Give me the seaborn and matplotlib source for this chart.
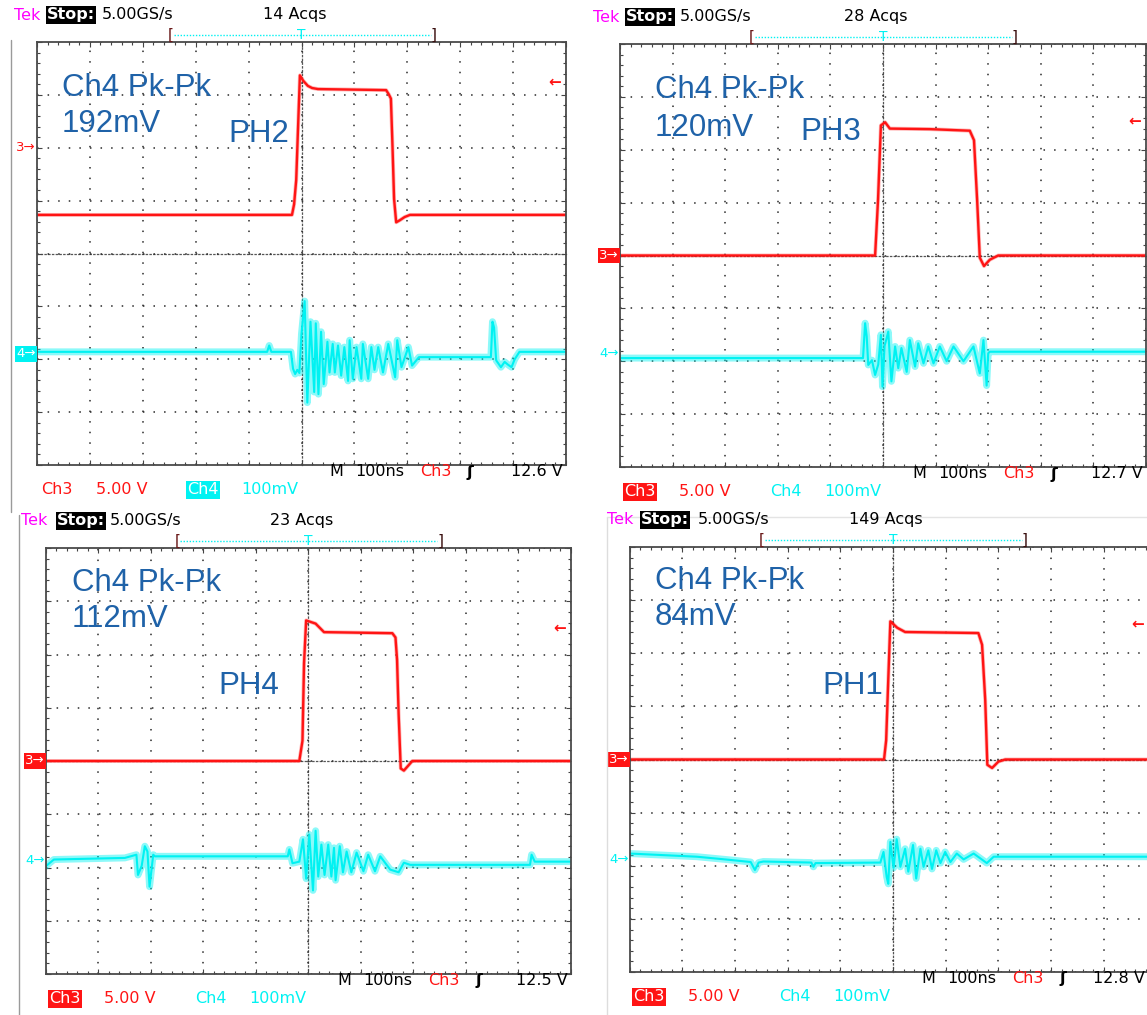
import numpy as np
import pandas as pd
import matplotlib
matplotlib.use("Agg")
import matplotlib.pyplot as plt
from matplotlib.lines import Line2D
from matplotlib.ticker import MultipleLocator
from matplotlib.transforms import Affine2D, blended_transform_factory
import seaborn as sns

# ---------------------------------------------------------------------------
# Captured switch-node (Ch3, 5 V/div) and output ripple (Ch4, 100 mV/div)
# waveforms for each phase, time base 100 ns/div, trigger at t = 0.
# ---------------------------------------------------------------------------
PHASES = ["PH2", "PH3", "PH4", "PH1"]
PK_PK = ["192mV", "120mV", "112mV", "84mV"]
ACQS = ["14 Acqs", "28 Acqs", "23 Acqs", "149 Acqs"]
TRIG_TEXT = ["12.6 V", "12.7 V", "12.5 V", "12.8 V"]
TRIG_V = [12.6, 12.7, 12.5, 12.8]

# vertical position (divisions) of each channel's reference level
CH3_ZERO = [0.73, 0.0, 0.0, 0.0]
CH3_MARK = [2.0, 0.0, 0.0, 0.0]
CH4_ZERO = [-1.90, -1.86, -1.87, -1.89]

# Ch3: switch node, volts
PH2_CH3_T = [-500, -18, -14, -10, -6, -3, 3, 12, 20, 31, 160, 165, 169, 172, 175, 179, 186, 195, 205, 500]
PH2_CH3_V = [0, 0, 1.0, 3.3, 9.0, 13.2, 12.7, 12.2, 12.0, 11.9, 11.8, 11.4, 11.0, 6.5, 1.5, -0.7, -0.5, -0.2, 0, 0]

PH3_CH3_T = [-500, -15, -9.5, -4, 4, 13, 89, 165, 173, 179, 184, 192, 203, 219, 500]
PH3_CH3_V = [0, 0, 5.2, 12.3, 12.6, 12.0, 11.95, 11.8, 10.9, 5.2, -0.2, -1.0, -0.4, 0, 0]

PH4_CH3_T = [-500, -17, -11, -8, -4, 14, 30, 160, 166, 169, 172, 176, 182, 198, 500]
PH4_CH3_V = [0, 0, 1.9, 9.2, 13.2, 12.9, 12.1, 12.0, 11.6, 9.5, 4.4, -0.7, -0.9, 0, 0]

PH1_CH3_T = [-500, -17, -13, -9, -5, 8, 23, 162, 169, 175, 179, 188, 200, 213, 500]
PH1_CH3_V = [0, 0, 1.8, 7.5, 13.0, 12.4, 12.0, 11.9, 10.8, 5.6, -0.5, -0.8, -0.2, 0, 0]

# Ch4: output ripple, millivolts
PH2_CH4_T = [-500, -65, -61, -57, -20, -16, -12, -8, -4, 0, 6, 11, 17, 24, 27, 32, 37, 42, 49, 53,
             59, 63, 69, 75, 81, 88, 91, 97, 104, 113, 116, 126, 132, 138, 145, 154, 164, 177, 181, 189,
             202, 209, 222, 358, 361, 364, 368, 377, 384, 390, 397, 403, 412, 500]
PH2_CH4_MV = [4, 4, 16, 4, 4, -28, -38, -30, -36, 38, 100, -92, 61, -72, 58, -76, 42, -57, 23, -35,
              19, -35, 16, -41, 13, -51, 26, -47, 13, -47, 19, -47, 13, -30, 13, -35, 19, -44, 26, -25,
              13, -22, -6, -6, 61, 50, -12, -25, -15, -20, -25, -10, 4, 4]

PH3_CH4_T = [-500, -38, -34, -31, -28, -21, -15, -9, -4, -1, 3, 6, 10, 16, 23, 29, 35, 45, 51, 61,
             67, 77, 86, 96, 108, 121, 134, 153, 172, 184, 191, 197, 200, 203, 500]
PH3_CH4_MV = [-8, -8, 58, 33, -21, -12, -40, -20, 36, -62, 15, 26, 42, -52, 14, -27, 11, -34, 26, -24,
              20, -18, 14, -18, 14, -14, 14, -14, 14, -37, 26, -60, 1, 4, 4]

PH4_CH4_T = [-500, -484, -349, -327, -324, -317, -311, -306, -302, -295, -292, -39, -36, -30, -17,
             -10, -4, 2, 9, 14, 19, 25, 31, 38, 44, 49, 52, 60, 66, 73, 82, 92, 105, 114, 127, 137,
             156, 172, 182, 194, 422, 425, 431, 500]
PH4_CH4_MV = [-11, 2, 5, 11, -27, -10, 27, 17, -49, 11, 8, 8, 21, -5, -2,
              40, -34, 49, -56, 56, -30, 30, -27, 30, -30, 24, -37, 27, -22, 17, -22, 15, -20, 11, -20, 8,
              -17, -22, -4, -8, -8, 11, -2, -2]

PH1_CH4_T = [-500, -372, -309, -270, -262, -255, -246, -155, -151, -147, -24, -18, -12, -9, -5, 1, 7,
             14, 23, 29, 38, 44, 52, 58, 67, 74, 82, 90, 99, 109, 121, 134, 153, 178, 191, 500]
PH1_CH4_MV = [12, 6, 0, -4, -19, -5, -3, -5, -13, -6, -5, 15, -32, -45, 34, -15, 39,
              -13, 21, -22, 28, -35, 21, -13, 18, -17, 18, -6, 15, -4, 12, 1, 12, -6, 6, 6]

CH3_T = [PH2_CH3_T, PH3_CH3_T, PH4_CH3_T, PH1_CH3_T]
CH3_V = [PH2_CH3_V, PH3_CH3_V, PH4_CH3_V, PH1_CH3_V]
CH4_T = [PH2_CH4_T, PH3_CH4_T, PH4_CH4_T, PH1_CH4_T]
CH4_MV = [PH2_CH4_MV, PH3_CH4_MV, PH4_CH4_MV, PH1_CH4_MV]

CH3_SCALE = 5.0     # V/div
CH4_SCALE = 100.0   # mV/div

# ---------------------------------------------------------------------------
# Layout (pixel coordinates on the 1147 x 1015 canvas)
# ---------------------------------------------------------------------------
W, H = 1147, 1015
PANEL_BOX = [(37, 42, 566, 465), (620, 44, 1146, 467),
             (45.5, 548, 571, 974), (629.5, 547, 1156.5, 972)]
HEADER_X = [(14, 47, 102), (593, 626, 680), (21, 57, 110), (607, 641, 698)]
LABEL_POS = [((62, 96), (62, 132), (228, 142)),
             ((655, 98), (655, 136), (800, 140)),
             ((72, 591), (72, 627), (218, 694)),
             ((655, 589), (655, 625), (822, 694))]
CH3_ACTIVE = [False, True, True, True]

RED = "#FF1414"
CYAN = "#00F2F2"
MAGENTA = "#FF00FF"
BLUE = "#1F62A8"
GRID = "#2A2A2A"

sns.set_theme(style="white")
plt.rcParams["font.family"] = ["DejaVu Sans"]
plt.rcParams["axes.facecolor"] = "none"

fig = plt.figure(figsize=(W / 100, H / 100), dpi=100)
fig.patch.set_facecolor("white")
pix = Affine2D().scale(1.0 / W, -1.0 / H).translate(0, 1) + fig.transFigure

SCOPE_FONT = dict(family=["DejaVu Sans"], fontsize=11.5)


def ptext(x, y, s, color="black", ha="left", va="center", **kw):
    opts = dict(SCOPE_FONT)
    opts.update(kw)
    return fig.text(x, y, s, transform=pix, color=color, ha=ha, va=va, **opts)


def pline(xs, ys, **kw):
    fig.add_artist(Line2D(xs, ys, transform=pix, **kw))


# screenshot borders
pline([11, 11], [40, 512], color="#9a9a9a", lw=1.0)
pline([19, 19], [515, 1015], color="#9a9a9a", lw=1.0)
pline([607, 607], [517, 1015], color="#dddddd", lw=1.0)
pline([607, 1147], [517, 517], color="#e4e4e4", lw=1.0)

for i in range(4):
    L, T, R, B = PANEL_BOX[i]
    rect = [L / W, 1 - B / H, (R - L) / W, (B - T) / H]
    cx_pix = (L + R) / 2

    # centre crosshair with fine division marks
    cross = fig.add_axes(rect)
    cross.set_xlim(-500, 500)
    cross.set_ylim(-4, 4)
    cross.patch.set_visible(False)
    cross.spines["left"].set_position(("data", 0))
    cross.spines["bottom"].set_position(("data", 0))
    cross.spines["top"].set_visible(False)
    cross.spines["right"].set_visible(False)
    for side in ("left", "bottom"):
        cross.spines[side].set_linestyle((0, (1, 2)))
        cross.spines[side].set_color("#555555")
        cross.spines[side].set_linewidth(0.9)
    cross.xaxis.set_major_locator(MultipleLocator(100))
    cross.xaxis.set_minor_locator(MultipleLocator(20))
    cross.yaxis.set_major_locator(MultipleLocator(1))
    cross.yaxis.set_minor_locator(MultipleLocator(0.2))
    cross.tick_params(which="both", direction="inout", length=4.5, width=0.8, color="#444444",
                      labelbottom=False, labelleft=False)

    # graticule frame, dotted divisions and traces
    ax = fig.add_axes(rect)
    ax.set_xlim(-500, 500)
    ax.set_ylim(-4, 4)
    ax.patch.set_visible(False)
    ax.xaxis.set_major_locator(MultipleLocator(100))
    ax.xaxis.set_minor_locator(MultipleLocator(20))
    ax.yaxis.set_major_locator(MultipleLocator(1))
    ax.yaxis.set_minor_locator(MultipleLocator(0.2))
    ax.grid(which="major", color=GRID, lw=1.1, ls=(0, (1, 5.93)))
    ax.tick_params(which="both", direction="in", top=True, right=True, bottom=True, left=True,
                   labelbottom=False, labelleft=False, color="#444444", width=0.8)
    ax.tick_params(which="major", length=3.5)
    ax.tick_params(which="minor", length=2.4)
    for sp in ax.spines.values():
        sp.set_color("#4a4a4a")
        sp.set_linewidth(1.3)

    d3 = pd.DataFrame({"t": CH3_T[i], "div": CH3_ZERO[i] + np.asarray(CH3_V[i]) / CH3_SCALE})
    d4 = pd.DataFrame({"t": CH4_T[i], "div": CH4_ZERO[i] + np.asarray(CH4_MV[i]) / CH4_SCALE})

    sns.lineplot(data=d4, x="t", y="div", ax=ax, color=CYAN, lw=5.0, alpha=0.45,
                 estimator=None, sort=False, legend=False)
    sns.lineplot(data=d4, x="t", y="div", ax=ax, color=CYAN, lw=1.5,
                 estimator=None, sort=False, legend=False)
    sns.lineplot(data=d3, x="t", y="div", ax=ax, color=RED, lw=2.8, alpha=0.3,
                 estimator=None, sort=False, legend=False)
    sns.lineplot(data=d3, x="t", y="div", ax=ax, color=RED, lw=1.7,
                 estimator=None, sort=False, legend=False)
    ax.set_xlabel("")
    ax.set_ylabel("")

    # channel reference markers on the left edge, trigger level on the right
    edge = blended_transform_factory(ax.transAxes, ax.transData)
    box3 = dict(boxstyle="square,pad=0.08", fc=RED, ec="none") if CH3_ACTIVE[i] else None
    box4 = None if CH3_ACTIVE[i] else dict(boxstyle="square,pad=0.08", fc=CYAN, ec="none")
    ax.text(-0.002, CH3_MARK[i], "3\u2192", transform=edge, ha="right", va="center",
            color="white" if CH3_ACTIVE[i] else RED, fontsize=9.5, bbox=box3, clip_on=False)
    ax.text(-0.002, CH4_ZERO[i], "4\u2192", transform=edge, ha="right", va="center",
            color=CYAN if CH3_ACTIVE[i] else "white", fontsize=9.5, bbox=box4, clip_on=False)
    arrow_x = (min(R - 5, 1144) - L) / (R - L)
    ax.text(arrow_x, CH3_ZERO[i] + TRIG_V[i] / CH3_SCALE, "\u2190", transform=edge, ha="right",
            va="center", color=RED, fontsize=11, fontweight="bold", clip_on=False)

    # header: status, sample rate, acquisitions and trigger position bar
    tek_x, stop_x, gs_x = HEADER_X[i]
    hy = T - 27
    ptext(tek_x, hy, "Tek", color=MAGENTA)
    ptext(stop_x, hy, "Stop:", color="white", fontweight="bold",
          bbox=dict(boxstyle="square,pad=0.08", fc="black", ec="none"))
    ptext(gs_x, hy, "5.00GS/s")
    ptext(cx_pix - 7, hy, ACQS[i], ha="center")
    by = T - 7
    pline([cx_pix - 128, cx_pix + 129], [by, by], color=CYAN, lw=1.0, ls=(0, (1, 1.2)))
    ptext(cx_pix - 131, by, "[", color="#6b1a1a", ha="center", fontsize=11)
    ptext(cx_pix + 132, by, "]", color="#3a1010", ha="center", fontsize=11)
    ptext(cx_pix, by, "T", color=CYAN, ha="center", fontsize=10)

    # footer: time base, trigger source/level, channel scales
    fy1 = B + 7
    ptext(L + 292, fy1, "M")
    ptext(L + 318, fy1, "100ns")
    ptext(L + 383, fy1, "Ch3", color=RED)
    ptext(L + 430, fy1, "\u0283", fontweight="bold")
    ptext(min(R - 3, 1145), fy1, TRIG_TEXT[i], ha="right")
    fy2 = B + 25
    if CH3_ACTIVE[i]:
        ptext(L + 4, fy2, "Ch3", color="white",
              bbox=dict(boxstyle="square,pad=0.08", fc=RED, ec="none"))
        ptext(L + 150, fy2, "Ch4", color=CYAN)
    else:
        ptext(L + 4, fy2, "Ch3", color=RED)
        ptext(L + 150, fy2, "Ch4", color="white",
              bbox=dict(boxstyle="square,pad=0.08", fc=CYAN, ec="none"))
    ptext(L + 59, fy2, "5.00 V", color=RED)
    ptext(L + 204, fy2, "100mV", color=CYAN)

    # annotations
    (pkx, pky), (vx, vy), (phx, phy) = LABEL_POS[i]
    lab = dict(family=["Liberation Sans", "DejaVu Sans"], fontsize=22.5, color=BLUE, va="baseline")
    fig.text(pkx, pky, "Ch4 Pk-Pk", transform=pix, ha="left", **lab)
    fig.text(vx, vy, PK_PK[i], transform=pix, ha="left", **lab)
    fig.text(phx, phy, PHASES[i], transform=pix, ha="left", **lab)

fig.savefig("out.png", dpi=100, facecolor="white")
